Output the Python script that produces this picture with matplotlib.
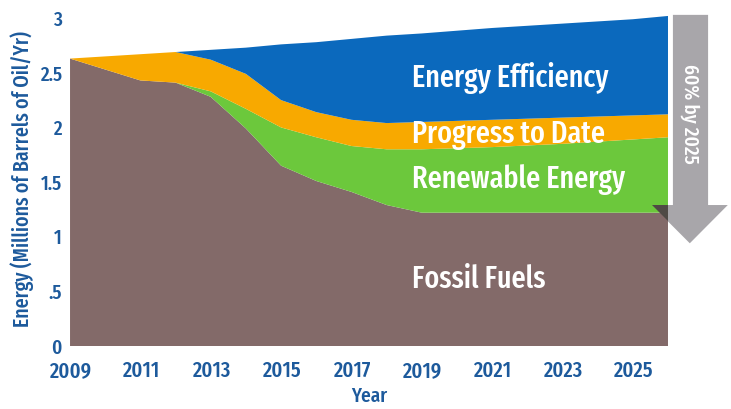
from matplotlib import pyplot as plt
from matplotlib.patches import Polygon

# data (stack layer thickness, millions of barrels/yr)
years = [2009, 2011, 2012, 2013, 2014, 2015, 2016, 2017, 2018, 2019, 2021, 2023, 2025, 2026]
fossil = [2.63, 2.43, 2.41, 2.28, 1.99, 1.65, 1.51, 1.41, 1.29, 1.22, 1.22, 1.22, 1.22, 1.22]
renewable = [0, 0, 0, 0.05, 0.18, 0.35, 0.40, 0.42, 0.51, 0.58, 0.60, 0.63, 0.67, 0.69]
progress = [0, 0.24, 0.28, 0.29, 0.32, 0.25, 0.23, 0.24, 0.24, 0.25, 0.25, 0.24, 0.22, 0.21]
efficiency = [0, 0, 0, 0.09, 0.24, 0.51, 0.64, 0.74, 0.80, 0.81, 0.84, 0.86, 0.88, 0.90]

layer_names = ['Fossil Fuels', 'Renewable Energy', 'Progress to Date', 'Energy Efficiency']
layer_colors = ['#836a69', '#6cc83c', '#f8a900', '#0b69bd']
xticks = [2009, 2011, 2013, 2015, 2017, 2019, 2021, 2023, 2025]
yticks = [0, 0.5, 1, 1.5, 2, 2.5, 3]
ytick_labels = ['0', '.5', '1', '1.5', '2', '2.5', '3']

txtblue = '#1d5a9c'
fam = ['Fira Sans Extra Condensed', 'DejaVu Sans']
wt = 500

fig = plt.figure(figsize=(7.31, 4.09), dpi=100)
ax = fig.add_axes([0.0958, 0.154, 0.818, 0.815])

ax.stackplot(years, fossil, renewable, progress, efficiency,
             colors=layer_colors, linewidth=0)

ax.set_xlim(2009, 2026)
ax.set_ylim(0, 3.05)
for s in ax.spines.values():
    s.set_visible(False)
ax.set_xticks(xticks)
ax.set_xticklabels([str(x) for x in xticks], fontfamily=fam, fontweight=wt,
                   fontsize=16, color=txtblue)
ax.set_yticks(yticks)
ax.set_yticklabels(ytick_labels, fontfamily=fam, fontweight=wt,
                   fontsize=15, color=txtblue)
ax.tick_params(axis='y', length=0, pad=6)
ax.tick_params(axis='x', length=0, pad=10)
ax.set_xlabel('Year', fontfamily=fam, fontweight=wt, fontsize=15,
              color=txtblue, labelpad=4)
ax.set_ylabel('Energy (Millions of Barrels of Oil/Yr)', fontfamily=fam,
              fontweight=wt, fontsize=15.5, color=txtblue, labelpad=4)

# layer labels (baseline positions)
xt = 2018.72
label_y = {'Energy Efficiency': 2.37, 'Progress to Date': 1.86,
           'Renewable Energy': 1.445, 'Fossil Fuels': 0.53}
for name in layer_names:
    ax.text(xt, label_y[name], name, color='white', fontfamily=fam,
            fontweight=wt, fontsize=22, va='baseline', ha='left')

# gray arrow on the right
arrow = Polygon([(2026.14, 3.03), (2027.14, 3.03), (2027.14, 1.29),
                 (2027.70, 1.29), (2026.62, 0.94), (2026.0, 1.14),
                 (2026.0, 1.29), (2026.14, 1.29)], closed=True,
                facecolor='#a8a6aa', edgecolor='none', clip_on=False, zorder=5)
ax.add_patch(arrow)
shadow = Polygon([(2025.54, 1.29), (2026.0, 1.29), (2026.0, 1.14)],
                 closed=True, facecolor='#4f4a45', edgecolor='none', zorder=4)
ax.add_patch(shadow)
ax.text(2026.62, 2.12, '60% by 2025', rotation=-90, color='white',
        fontfamily=fam, fontweight=wt, fontsize=15, ha='center',
        va='center', zorder=6, clip_on=False)

plt.savefig('out.png', dpi=100)
